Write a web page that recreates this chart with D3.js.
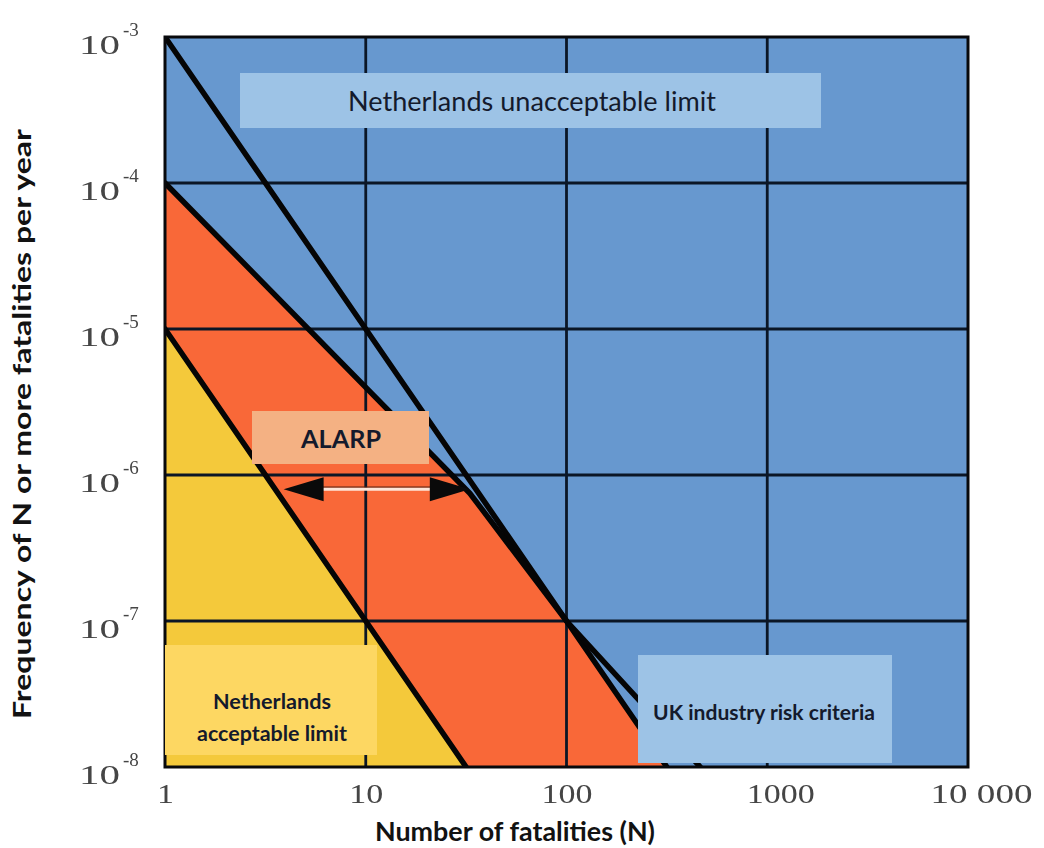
<!DOCTYPE html>
<html>
<head>
<meta charset="utf-8">
<script src="https://cdn.jsdelivr.net/npm/d3@7"></script>
<style>
  body { margin: 0; background: #ffffff; }
  svg { display: block; }
</style>
</head>
<body>
<svg id="chart" width="1044" height="848"></svg>
<script>
// ---- data ----
const xTickValues = [1, 10, 100, 1000, 10000];
const xTickLabels = ["1", "10", "100", "1000", "10 000"];
const yTickValues = [1e-3, 1e-4, 1e-5, 1e-6, 1e-7, 1e-8];
const yTickExponents = ["-3", "-4", "-5", "-6", "-7", "-8"];

// F-N criterion lines as [N, frequency of N or more fatalities per year]
const unacceptableLine = [[1, 1e-3], [10, 1e-5], [100, 1e-7], [316.2, 1e-8]];
const ukCriteriaLine = [[1, 1e-4], [33, 7.5e-7], [100, 1e-7], [464, 1e-8]];
const acceptableLine = [[1, 1e-5], [10, 1e-7], [31.62, 1e-8]];

// ALARP arrow span (N) and the frequency it sits at
const alarpSpan = [3.9, 33];
const alarpLevel = 8e-7;

const xAxisTitle = "Number of fatalities (N)";
const yAxisTitle = "Frequency of N or more fatalities per year";

// ---- layout ----
const plot = { left: 165, right: 968, top: 37, bottom: 767 };
const colors = {
  blue: "#6798cf",
  orange: "#f96838",
  yellow: "#f4c93b",
  grid: "#0b1626",
  boxBlue: "#9dc3e6",
  boxPeach: "#f4b183",
  boxYellow: "#fdd762",
  ink: "#141a2c"
};

const svg = d3.select("#chart");
const x = d3.scaleLog().domain([1, 10000]).range([plot.left, plot.right]);
const y = d3.scaleLog().domain([1e-8, 1e-3]).range([plot.bottom, plot.top]);

const defs = svg.append("defs");
defs.append("clipPath").attr("id", "plotClip")
  .append("rect")
  .attr("x", plot.left).attr("y", plot.top)
  .attr("width", plot.right - plot.left).attr("height", plot.bottom - plot.top);
defs.append("filter").attr("id", "soft")
  .append("feGaussianBlur").attr("stdDeviation", 0.55);

const area = d3.area()
  .x(d => x(d[0]))
  .y0(y(1e-8))
  .y1(d => y(d[1]));
const line = d3.line().x(d => x(d[0])).y(d => y(d[1]));

const g = svg.append("g").attr("clip-path", "url(#plotClip)");

// background: intolerable region
g.append("rect")
  .attr("x", plot.left).attr("y", plot.top)
  .attr("width", plot.right - plot.left).attr("height", plot.bottom - plot.top)
  .attr("fill", colors.blue);

// ALARP region: below the lower of the UK and unacceptable lines
const alarpEdge = ukCriteriaLine.filter(d => d[0] <= 100)
  .concat(unacceptableLine.filter(d => d[0] > 100));
g.append("path").datum(alarpEdge).attr("d", area).attr("fill", colors.orange);

// acceptable region
g.append("path").datum(acceptableLine).attr("d", area).attr("fill", colors.yellow);

// grid
g.selectAll(".vgrid").data(xTickValues.slice(1, -1)).join("line")
  .attr("x1", d => x(d)).attr("x2", d => x(d))
  .attr("y1", plot.top).attr("y2", plot.bottom)
  .attr("stroke", colors.grid).attr("stroke-width", 2.8);
g.selectAll(".hgrid").data(yTickValues.slice(1, -1)).join("line")
  .attr("x1", plot.left).attr("x2", plot.right)
  .attr("y1", d => y(d)).attr("y2", d => y(d))
  .attr("stroke", colors.grid).attr("stroke-width", 2.8);

// criterion lines
[unacceptableLine, ukCriteriaLine, acceptableLine].forEach(pts => {
  g.append("path").datum(pts).attr("d", line)
    .attr("fill", "none").attr("stroke", "#050505")
    .attr("stroke-width", 5.5).attr("stroke-linecap", "round");
});

// frame
svg.append("rect")
  .attr("x", plot.left).attr("y", plot.top)
  .attr("width", plot.right - plot.left).attr("height", plot.bottom - plot.top)
  .attr("fill", "none").attr("stroke", "#08090c").attr("stroke-width", 3);

// ---- annotation boxes ----
function box(x0, y0, w, h, fill) {
  svg.append("rect").attr("x", x0).attr("y", y0).attr("width", w).attr("height", h).attr("fill", fill);
}
function label(txt, cx, by, size, weight, len) {
  const t = svg.append("text")
    .attr("x", cx).attr("y", by)
    .attr("text-anchor", "middle")
    .attr("font-family", "Lato, 'Open Sans', sans-serif")
    .attr("font-size", size).attr("font-weight", weight)
    .attr("fill", colors.ink)
    .text(txt);
  if (len) t.attr("textLength", len).attr("lengthAdjust", "spacingAndGlyphs");
  return t;
}

box(240, 73, 581, 55, colors.boxBlue);
label("Netherlands unacceptable limit", 532, 111, 27, 400, 368);

box(252, 411, 177, 53, colors.boxPeach);
label("ALARP", 341, 448, 25, 700, 80);

box(165, 645, 212, 110, colors.boxYellow);
label("Netherlands", 272, 709, 21, 700, 118);
label("acceptable limit", 272, 741, 21, 700, 150);

box(638, 655, 254, 108, colors.boxBlue);
label("UK industry risk criteria", 764, 720, 21, 700, 222);

// ALARP double arrow
const ay = y(alarpLevel);
const ax0 = x(alarpSpan[0]), ax1 = x(alarpSpan[1]);
const head = 40, halfW = 12;
svg.append("line")
  .attr("x1", ax0 + head - 2).attr("x2", ax1 - head + 4)
  .attr("y1", ay - 2).attr("y2", ay - 2)
  .attr("stroke", "#5a2010").attr("stroke-width", 1.2);
svg.append("line")
  .attr("x1", ax0 + head - 2).attr("x2", ax1 - head + 4)
  .attr("y1", ay).attr("y2", ay)
  .attr("stroke", "#fde6da").attr("stroke-width", 3);
svg.append("path")
  .attr("d", `M${ax0},${ay} L${ax0 + head},${ay - halfW} L${ax0 + head},${ay + halfW} Z`)
  .attr("fill", "#0a0a0a");
svg.append("path")
  .attr("d", `M${ax1},${ay} L${ax1 - head},${ay - halfW} L${ax1 - head},${ay + halfW} Z`)
  .attr("fill", "#0a0a0a");

// ---- axes ----
const xAxis = d3.axisBottom(x)
  .tickValues(xTickValues)
  .tickFormat((d, i) => xTickLabels[i])
  .tickSize(0).tickPadding(0);
const xg = svg.append("g")
  .attr("transform", `translate(0,${plot.bottom})`)
  .call(xAxis);
xg.select(".domain").remove();
xg.selectAll("text")
  .attr("y", 36).attr("dy", 0)
  .attr("dx", d => (d >= 1000 ? 13 : 0))
  .attr("font-family", "'Liberation Serif', 'DejaVu Serif', serif")
  .attr("font-size", 28)
  .attr("fill", "#454545")
  .attr("filter", "url(#soft)")
  .attr("textLength", (d, i) => xTickLabels[i].length * 17)
  .attr("lengthAdjust", "spacingAndGlyphs");

const yAxis = d3.axisLeft(y)
  .tickValues(yTickValues)
  .tickFormat("")
  .tickSize(0);
const yg = svg.append("g")
  .attr("transform", `translate(${plot.left},0)`)
  .call(yAxis);
yg.select(".domain").remove();
yg.selectAll(".tick").each(function (d, i) {
  const tk = d3.select(this);
  tk.append("text")
    .attr("x", -86).attr("y", 16)
    .attr("text-anchor", "start")
    .attr("font-family", "'Liberation Serif', 'DejaVu Serif', serif")
    .attr("font-size", 28)
    .attr("fill", "#454545")
    .attr("filter", "url(#soft)")
    .attr("textLength", 41).attr("lengthAdjust", "spacingAndGlyphs")
    .text("10");
  tk.append("text")
    .attr("x", -42).attr("y", -2)
    .attr("text-anchor", "start")
    .attr("font-family", "'Liberation Serif', 'DejaVu Serif', serif")
    .attr("font-size", 19)
    .attr("fill", "#454545")
    .attr("filter", "url(#soft)")
    .text(yTickExponents[i]);
});

// axis titles
svg.append("text")
  .attr("x", 515).attr("y", 841)
  .attr("text-anchor", "middle")
  .attr("font-family", "Lato, 'Open Sans', sans-serif")
  .attr("font-size", 26).attr("font-weight", 700)
  .attr("fill", "#121212")
  .attr("textLength", 280).attr("lengthAdjust", "spacingAndGlyphs")
  .text(xAxisTitle);

svg.append("text")
  .attr("transform", "translate(31,424) rotate(-90)")
  .attr("text-anchor", "middle")
  .attr("font-family", "Lato, 'Open Sans', sans-serif")
  .attr("font-size", 25).attr("font-weight", 700)
  .attr("fill", "#121212")
  .attr("textLength", 590).attr("lengthAdjust", "spacingAndGlyphs")
  .text(yAxisTitle);
</script>
</body>
</html>
